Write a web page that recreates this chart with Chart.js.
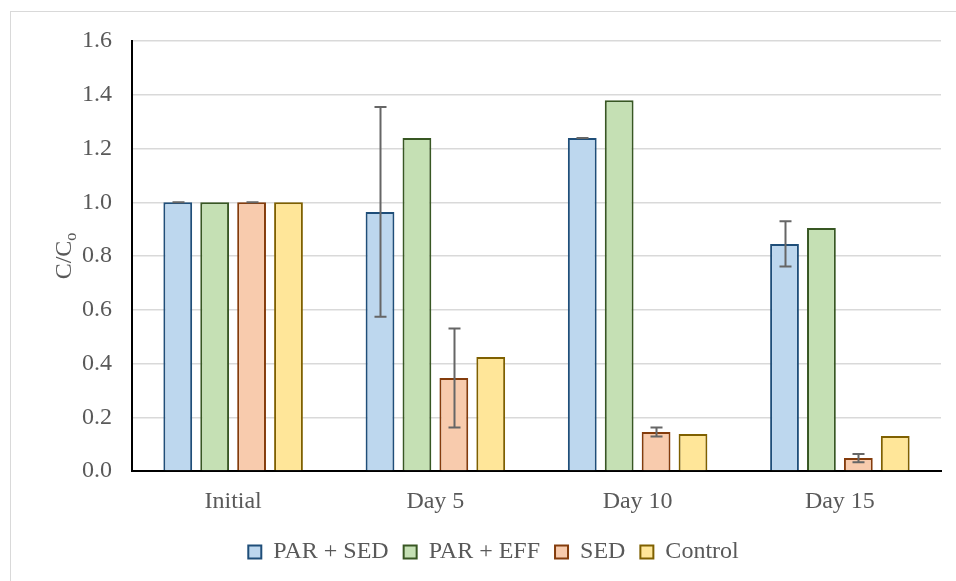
<!DOCTYPE html>
<html>
<head>
<meta charset="utf-8">
<script src="https://cdn.jsdelivr.net/npm/chart.js@4.4.1/dist/chart.umd.min.js"></script>
<style>
  html, body { margin: 0; padding: 0; background: #fff; }
  #wrap { width: 956px; height: 581px; position: relative; }
</style>
</head>
<body>
<div id="wrap"><canvas id="chart" width="956" height="581"></canvas></div>
<script>
const categories = ['Initial', 'Day 5', 'Day 10', 'Day 15'];
const seriesNames = ['PAR + SED', 'PAR + EFF', 'SED', 'Control'];

const parSed = [1.0, 0.964, 1.239, 0.845];
const parEff = [1.0, 1.239, 1.38, 0.904];
const sed = [1.0, 0.346, 0.145, 0.048];
const control = [1.0, 0.424, 0.138, 0.13];

// +/- error, null = no error bar
const parSedErr = [0, 0.39, 0, 0.084];
const parEffErr = [null, null, null, null];
const sedErr = [0, 0.184, 0.017, 0.015];
const controlErr = [null, null, null, null];

const fills = ['#bdd7ee', '#c5e0b4', '#f8cbad', '#ffe699'];
const borders = ['#1f4e79', '#385723', '#843c0c', '#7f6000'];

const values = [parSed, parEff, sed, control];
const errors = [parSedErr, parEffErr, sedErr, controlErr];

const fontFamily = '"Liberation Serif", "Times New Roman", serif';
const textColor = '#595959';

const errorBars = {
    id: 'errorBars',
    afterDatasetsDraw(chart) {
        const ctx = chart.ctx;
        const yScale = chart.scales.y;
        ctx.save();
        ctx.strokeStyle = '#666666';
        ctx.lineWidth = 2;
        chart.data.datasets.forEach(function (ds, di) {
            const meta = chart.getDatasetMeta(di);
            ds.errors.forEach(function (e, i) {
                if (e === null) return;
                const bar = meta.data[i];
                const v = ds.data[i];
                const yTop = yScale.getPixelForValue(v + e);
                const yBot = yScale.getPixelForValue(v - e);
                const x = Math.round(bar.x) + 0.5;
                ctx.beginPath();
                ctx.moveTo(x, yTop);
                ctx.lineTo(x, yBot);
                ctx.moveTo(x - 6, yTop);
                ctx.lineTo(x + 6, yTop);
                ctx.moveTo(x - 6, yBot);
                ctx.lineTo(x + 6, yBot);
                ctx.stroke();
            });
        });
        ctx.restore();
    }
};

const frameAndTitle = {
    id: 'frameAndTitle',
    afterLayout(chart) {
        // legend is centred on the full (cropped) frame, a bit right of the canvas centre
        chart.legend.left += 23;
        chart.legend.right += 23;
    },
    beforeDraw(chart) {
        const ctx = chart.ctx;
        ctx.save();
        ctx.strokeStyle = '#d9d9d9';
        ctx.lineWidth = 1;
        ctx.strokeRect(10.5, 11.5, 1000, 1000);
        ctx.restore();
    },
    afterDraw(chart) {
        const ctx = chart.ctx;
        const area = chart.chartArea;
        ctx.save();
        ctx.translate(65, (area.top + area.bottom) / 2);
        ctx.rotate(-Math.PI / 2);
        ctx.fillStyle = textColor;
        ctx.textBaseline = 'middle';
        const mainFont = '24px ' + fontFamily;
        const subFont = '16px ' + fontFamily;
        ctx.font = mainFont;
        const w1 = ctx.measureText('C/C').width;
        ctx.font = subFont;
        const w2 = ctx.measureText('o').width;
        const start = -(w1 + w2) / 2;
        ctx.font = mainFont;
        ctx.textAlign = 'left';
        ctx.fillText('C/C', start, 0);
        ctx.font = subFont;
        ctx.fillText('o', start + w1, 7);
        ctx.restore();
    }
};

new Chart(document.getElementById('chart'), {
    type: 'bar',
    data: {
        labels: categories,
        datasets: seriesNames.map(function (name, i) {
            return {
                label: name,
                data: values[i],
                errors: errors[i],
                backgroundColor: fills[i],
                borderColor: borders[i],
                borderWidth: 2,
                borderSkipped: 'bottom',
                categoryPercentage: 0.73,
                barPercentage: 0.78
            };
        })
    },
    options: {
        responsive: false,
        animation: false,
        layout: { padding: { top: 41, right: 15, left: 0, bottom: 7 } },
        scales: {
            x: {
                afterFit(scale) { scale.height = 54; },
                grid: { display: false },
                border: { color: '#000000', width: 2 },
                ticks: {
                    color: textColor,
                    font: { family: fontFamily, size: 24 },
                    padding: 8
                }
            },
            y: {
                min: 0,
                max: 1.6,
                afterFit(scale) { scale.width = 132; },
                grid: { color: '#d9d9d9', lineWidth: 1.5, drawTicks: false },
                border: { color: '#000000', width: 2 },
                ticks: {
                    stepSize: 0.2,
                    color: textColor,
                    font: { family: fontFamily, size: 24 },
                    padding: 20,
                    callback: function (v) { return v.toFixed(1); }
                }
            }
        },
        plugins: {
            legend: {
                position: 'bottom',
                labels: {
                    color: textColor,
                    font: { family: fontFamily, size: 24 },
                    boxWidth: 13,
                    boxHeight: 13,
                    padding: 15
                }
            },
            tooltip: { enabled: false }
        }
    },
    plugins: [errorBars, frameAndTitle]
});
</script>
</body>
</html>
